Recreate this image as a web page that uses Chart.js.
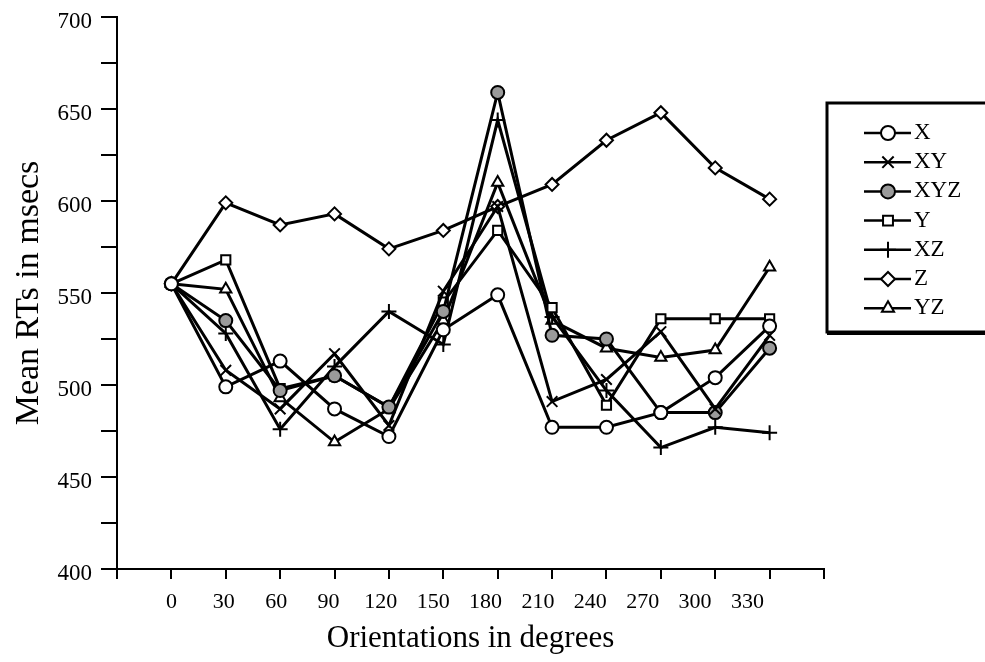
<!DOCTYPE html>
<html>
<head>
<meta charset="utf-8">
<script src="https://cdn.jsdelivr.net/npm/chart.js@4.4.1/dist/chart.umd.min.js"></script>
<style>
html,body{margin:0;padding:0;background:#fff;}
#wrap{width:985px;height:662px;position:relative;}
</style>
</head>
<body>
<div id="wrap"><canvas id="c" width="985" height="662"></canvas></div>
<script>
// ---- data ----
const orientations = [0, 30, 60, 90, 120, 150, 180, 210, 240, 270, 300, 330];
const seriesNames  = ['X', 'XY', 'XYZ', 'Y', 'XZ', 'Z', 'YZ'];
const valuesX   = [555, 499, 513, 487, 472, 530, 549, 477, 477, 485, 504, 532];
const valuesXY  = [555, 508, 487, 517, 478, 551, 597, 491, 503, 529, 487, 527];
const valuesXYZ = [555, 535, 497, 505, 488, 540, 659, 527, 525, 485, 485, 520];
const valuesY   = [555, 568, 498, 505, 488, 545, 584, 542, 489, 536, 536, 536];
const valuesXZ  = [555, 528, 476, 510, 540, 522, 644, 537, 497, 466, 477, 474];
const valuesZ   = [555, 599, 587, 593, 574, 584, 597, 609, 633, 648, 618, 601];
const valuesYZ  = [555, 552, 493, 469, 487, 535, 610, 535, 520, 515, 519, 564];
const yTickLabels = [400, 450, 500, 550, 600, 650, 700];

const allValues = [valuesX, valuesXY, valuesXYZ, valuesY, valuesXZ, valuesZ, valuesYZ];
const styles = [
  {pointStyle: 'circle',   fill: '#fff'},
  {pointStyle: 'crossRot', fill: '#fff'},
  {pointStyle: 'circle',   fill: '#9a9a9a'},
  {pointStyle: 'rect',     fill: '#fff'},
  {pointStyle: 'cross',    fill: '#fff'},
  {pointStyle: 'rectRot',  fill: '#fff'},
  {pointStyle: 'triangle', fill: '#fff'}
];
const FONT = '"Liberation Serif", "Times New Roman", serif';
// the printed x labels sit slightly left of their tick marks, progressively
const LABEL_SQUEEZE = 0.963;

const datasets = seriesNames.map((name, i) => ({
  label: name,
  data: orientations.map((o, j) => ({x: o, y: allValues[i][j]})),
  xAxisID: 'x',
  borderColor: '#000',
  borderWidth: 3,
  pointStyle: styles[i].pointStyle,
  pointBackgroundColor: styles[i].fill,
  pointBorderColor: '#000',
  pointBorderWidth: 2,
  pointRadius: (styles[i].pointStyle === 'cross' || styles[i].pointStyle === 'crossRot') ? 7.5 : 6.5,
  tension: 0,
  fill: false
}));

const boxLegend = {
  id: 'boxLegend',
  afterDraw(chart) {
    const ctx = chart.ctx;
    const ca = chart.chartArea;
    const left = ca.right + 3, top = 103, bottom = 332;
    ctx.save();
    ctx.strokeStyle = '#000';
    ctx.lineWidth = 3;
    ctx.strokeRect(left, top, chart.width - left + 10, bottom - top);
    ctx.lineWidth = 4;
    ctx.beginPath(); ctx.moveTo(left, bottom + 1); ctx.lineTo(chart.width, bottom + 1); ctx.stroke();
    chart.data.datasets.forEach((ds, i) => {
      const y = top + 30 + i * 29.2;
      ctx.strokeStyle = '#000';
      ctx.lineWidth = 2.5;
      ctx.beginPath(); ctx.moveTo(left + 37, y); ctx.lineTo(left + 84, y); ctx.stroke();
      ctx.fillStyle = ds.pointBackgroundColor;
      ctx.lineWidth = 2;
      const r = (ds.pointStyle === 'cross' || ds.pointStyle === 'crossRot') ? 8 : 7;
      Chart.helpers.drawPoint(ctx, {pointStyle: ds.pointStyle, radius: r, rotation: 0, borderWidth: 2}, left + 61, y);
      ctx.fillStyle = '#000';
      ctx.font = '23px ' + FONT;
      ctx.textBaseline = 'middle';
      ctx.textAlign = 'left';
      ctx.fillText(ds.label, left + 87, y);
    });
    ctx.restore();
  }
};

new Chart(document.getElementById('c'), {
  type: 'line',
  data: {datasets},
  plugins: [boxLegend],
  options: {
    responsive: false,
    animation: false,
    devicePixelRatio: 1,
    layout: {padding: {top: 17, right: 161, bottom: 0, left: 0}},
    plugins: {legend: {display: false}, tooltip: {enabled: false}},
    scales: {
      x: {
        type: 'linear',
        position: 'bottom',
        min: -30, max: 360,
        afterFit(scale) { scale.height = 10; scale.paddingLeft = 0; scale.paddingRight = 0; },
        ticks: {stepSize: 30, autoSkip: false, maxRotation: 0, callback: () => ''},
        grid: {drawOnChartArea: false, drawTicks: true, tickLength: 10, color: '#000', lineWidth: 2},
        border: {display: true, color: '#000', width: 2}
      },
      xLabels: {
        type: 'linear',
        position: 'bottom',
        min: -30 / LABEL_SQUEEZE, max: 360 / LABEL_SQUEEZE,
        afterFit(scale) { scale.height = 83; scale.paddingLeft = 0; scale.paddingRight = 0; },
        ticks: {
          stepSize: 30, autoSkip: false, maxRotation: 0, padding: 2,
          color: '#000', font: {family: FONT, size: 22},
          callback: (v) => orientations.includes(v) ? String(v) : ''
        },
        grid: {display: false},
        border: {display: false},
        title: {display: true, text: 'Orientations in degrees', color: '#000',
                font: {family: FONT, size: 31}, padding: {top: 0, bottom: 5}}
      },
      y: {
        min: 400, max: 700,
        afterFit(scale) { scale.width = 117; scale.paddingTop = 0; scale.paddingBottom = 0; },
        ticks: {
          stepSize: 25, padding: 9, labelOffset: 5, color: '#000', font: {family: FONT, size: 23},
          callback: (v) => yTickLabels.includes(v) ? String(v) : ''
        },
        grid: {drawOnChartArea: false, drawTicks: true, tickLength: 16, color: '#000', lineWidth: 2},
        border: {display: true, color: '#000', width: 2},
        title: {display: true, text: 'Mean RTs in msecs', color: '#000',
                font: {family: FONT, size: 34}, padding: {top: 9, bottom: 0}}
      }
    }
  }
});
</script>
</body>
</html>
